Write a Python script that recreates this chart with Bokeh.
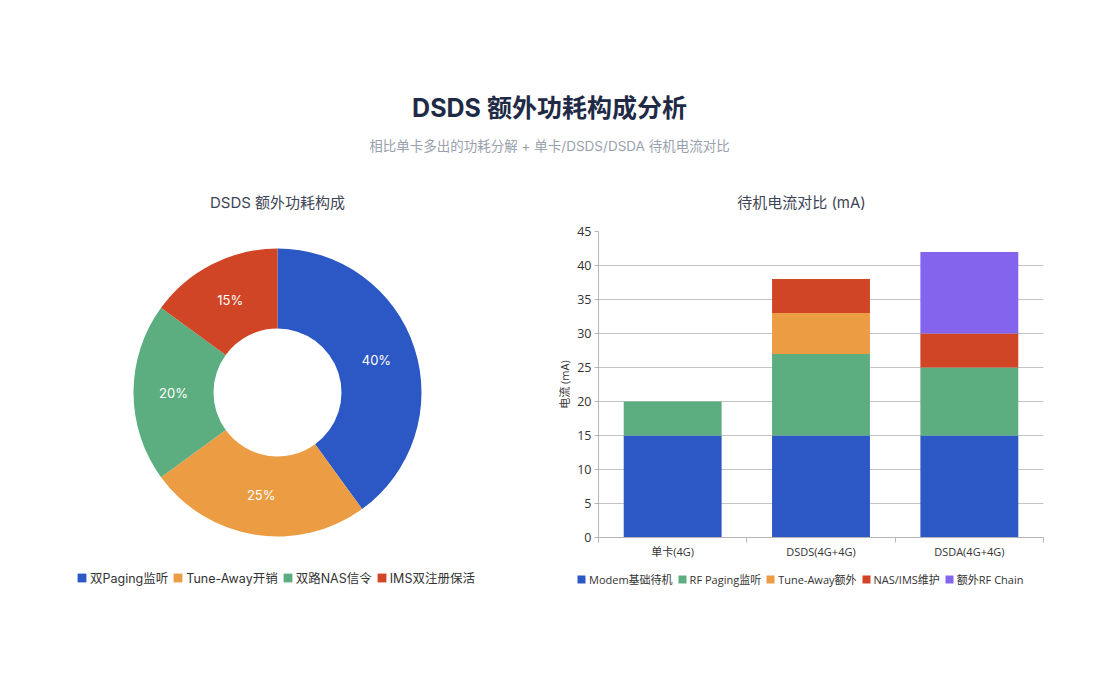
import numpy as np
from bokeh.plotting import figure
from bokeh.models import Range1d, ColumnDataSource, Legend, LegendItem, FixedTicker
from bokeh.layouts import column, row
from bokeh.embed import file_html
from bokeh.resources import INLINE
from bokeh.core.properties import value

# ---------------- data ----------------
TITLE = "DSDS 额外功耗构成分析"
SUBTITLE = "相比单卡多出的功耗分解 + 单卡/DSDS/DSDA 待机电流对比"
PIE_TITLE = "DSDS 额外功耗构成"
BAR_TITLE = "待机电流对比 (mA)"
Y_LABEL = "电流 (mA)"

pie_labels = ["双Paging监听", "Tune-Away开销", "双路NAS信令", "IMS双注册保活"]
pie_values = [40, 25, 20, 15]
pie_colors = ["#2c58c5", "#ec9c42", "#5cae80", "#cf4526"]

bar_categories = ["单卡(4G)", "DSDS(4G+4G)", "DSDA(4G+4G)"]
bar_series = ["Modem基础待机", "RF Paging监听", "Tune-Away额外", "NAS/IMS维护", "额外RF Chain"]
modem_base = [15, 15, 15]
rf_paging = [5, 12, 10]
tune_away = [0, 6, 0]
nas_ims = [0, 5, 5]
extra_rf = [0, 0, 12]
bar_colors = ["#2c58c5", "#5cae80", "#ec9c42", "#cf4526", "#8464ec"]
y_ticks = [0, 5, 10, 15, 20, 25, 30, 35, 40, 45]

F_HEAD = "Inter, 'Noto Sans CJK SC', sans-serif"
F_BAR = "'Open Sans', 'Noto Sans CJK SC', sans-serif"

W = 1096
HALF = 548
HEAD_H = 213
TOP_B = 18
FRAME_H = 306
BOT_B = 33
ROW_H = TOP_B + FRAME_H + BOT_B
FOOT_H = 120


def blank(width, height, **kw):
    p = figure(width=width, height=height, x_axis_type=None, y_axis_type=None,
               toolbar_location=None, output_backend="svg", outline_line_color=None, **kw)
    p.grid.visible = False
    return p


# ---------------- header ----------------
head = blank(W, HEAD_H, x_range=Range1d(0, W), y_range=Range1d(0, HEAD_H), min_border=0)
head.text(x=[549], y=[106], text=[TITLE], text_font=value(F_HEAD), text_font_size="25px",
          text_font_style="bold", text_color="#1f2b46", text_align="center", text_baseline="middle")
head.text(x=[549], y=[68], text=[SUBTITLE], text_font=value(F_HEAD), text_font_size="13.5px",
          text_color="#99a1ad", text_align="center", text_baseline="middle")
head.text(x=[277, 801], y=[11, 11], text=[PIE_TITLE, BAR_TITLE], text_font=value(F_HEAD),
          text_font_size="15px", text_color="#3d4555", text_align="center", text_baseline="middle")

# ---------------- pie ----------------
pie = blank(HALF, ROW_H, x_range=Range1d(0, HALF), y_range=Range1d(0, FRAME_H),
            min_border_left=0, min_border_right=0, min_border_top=TOP_B, min_border_bottom=BOT_B)
cx, cy = 277, 145
vals = np.array(pie_values, dtype=float)
fr = vals / vals.sum()
cum = np.cumsum(fr)
starts = np.concatenate([[0.0], cum[:-1]])
sa = np.pi / 2 - starts * 2 * np.pi
ea = np.pi / 2 - cum * 2 * np.pi
mid = (sa + ea) / 2
rl = (64 + 144) / 2
psrc = ColumnDataSource(dict(start=sa, end=ea, color=pie_colors, label=pie_labels,
                             lx=cx + rl * np.cos(mid), ly=cy + rl * np.sin(mid),
                             pct=[f"{v}%" for v in pie_values]))
pie.annular_wedge(x=cx, y=cy, inner_radius=64, outer_radius=144, start_angle="start", end_angle="end",
                  direction="clock", fill_color="color", line_color=None, source=psrc)
pie.text(x="lx", y="ly", text="pct", source=psrc, text_font=value(F_HEAD), text_font_size="13px",
         text_color="white", text_align="center", text_baseline="middle")

# ---------------- bar ----------------
xs = list(range(len(bar_categories)))
bsrc = ColumnDataSource(dict(x=xs, **dict(zip(bar_series, [modem_base, rf_paging, tune_away, nas_ims, extra_rf]))))
bar = figure(width=HALF, height=ROW_H, x_range=Range1d(-0.5, len(bar_categories) - 0.5), y_range=Range1d(0, 45),
             toolbar_location=None, output_backend="svg", min_border_left=50, min_border_right=53,
             min_border_top=TOP_B, min_border_bottom=BOT_B, outline_line_color=None)
bar.vbar_stack(bar_series, x="x", width=0.66, fill_color=bar_colors, line_color=None, source=bsrc)

bar.xgrid.visible = False
bar.ygrid.grid_line_color = "#c4c4c4"
bar.yaxis.ticker = FixedTicker(ticks=y_ticks)
bar.xaxis.ticker = FixedTicker(ticks=xs, minor_ticks=[i - 0.5 for i in range(len(bar_categories) + 1)])
bar.xaxis.major_label_overrides = {i: c for i, c in enumerate(bar_categories)}
for ax in (bar.xaxis[0], bar.yaxis[0]):
    ax.axis_line_color = "#b5b5b5"
    ax.major_tick_line_color = "#b5b5b5"
    ax.minor_tick_line_color = "#b5b5b5"
    ax.major_label_text_font = F_BAR
    ax.major_label_text_color = "#333333"
bar.xaxis.major_tick_line_color = None
bar.xaxis.major_tick_out = 0
bar.xaxis.major_tick_in = 0
bar.xaxis.minor_tick_out = 5
bar.xaxis.minor_tick_in = 0
bar.xaxis.major_label_standoff = 1
bar.xaxis.major_label_text_font_size = "11px"
bar.yaxis.minor_tick_line_color = None
bar.yaxis.major_tick_out = 4
bar.yaxis.major_tick_in = 0
bar.yaxis.major_label_standoff = 3
bar.yaxis.major_label_text_font_size = "12.5px"
bar.yaxis.axis_label = Y_LABEL
bar.yaxis.axis_label_text_font = F_BAR
bar.yaxis.axis_label_text_font_size = "11px"
bar.yaxis.axis_label_text_font_style = "normal"
bar.yaxis.axis_label_text_color = "#333333"
bar.yaxis.axis_label_standoff = 2

# ---------------- footer legends ----------------
foot = blank(W, FOOT_H, x_range=Range1d(0, W), y_range=Range1d(0, FOOT_H), min_border=0)


def make_legend(labels, colors, loc, size, font, gw, spacing):
    items = []
    for lab, col in zip(labels, colors):
        r = foot.rect(x=[0], y=[0], width=0, height=0, fill_color=col, line_color=None)
        items.append(LegendItem(label=lab, renderers=[r]))
    lg = Legend(items=items, location=loc, orientation="horizontal", padding=0, margin=0,
                border_line_color=None, background_fill_alpha=0, glyph_width=gw, glyph_height=gw,
                label_standoff=3, spacing=spacing, label_height=14, label_width=10, label_text_font=font,
                label_text_font_size=size, label_text_color="#333333")
    foot.add_layout(lg)


make_legend(pie_labels, pie_colors, (76, 103), "12.5px", F_HEAD, 11, 4)
make_legend(bar_series, bar_colors, (576, 103), "11px", F_BAR, 10, 4)

layout = column(head, row(pie, bar), foot)
open("out.html", "w").write(file_html(layout, INLINE))
